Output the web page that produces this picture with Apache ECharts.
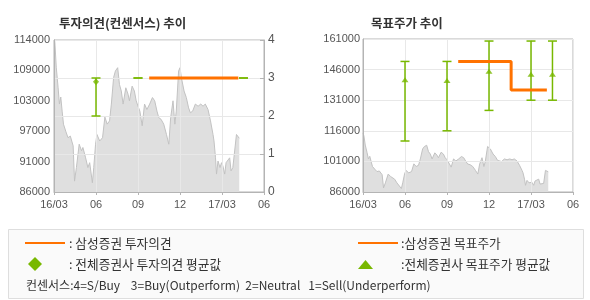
<!DOCTYPE html>
<html>
<head>
<meta charset="utf-8">
<script src="https://cdn.jsdelivr.net/npm/echarts@6/dist/echarts.min.js"></script>
<style>
html,body{margin:0;padding:0;background:#fff;}
#chart{width:590px;height:300px;}
</style>
</head>
<body>
<div id="chart"></div>
<script>
// ---- data ----
const xTickLabels = ['16/03', '06', '09', '12', '17/03', '06'];
const opinionTickLabels = ['0', '1', '2', '3', '4'];
const leftPriceTickLabels = ['86000', '91000', '97000', '103000', '109000', '114000'];
const rightPriceTickLabels = ['86000', '101000', '116000', '131000', '146000', '161000'];

const priceDates = [
  '2016-03-01','2016-03-03','2016-03-06','2016-03-10','2016-03-13','2016-03-16','2016-03-19','2016-03-22','2016-03-27',
  '2016-04-01','2016-04-06','2016-04-12','2016-04-15','2016-04-19','2016-04-25','2016-04-30',
  '2016-05-03','2016-05-09','2016-05-14','2016-05-18','2016-05-24','2016-05-27','2016-05-31',
  '2016-06-03','2016-06-09','2016-06-15','2016-06-20','2016-06-25','2016-06-30',
  '2016-07-04','2016-07-09','2016-07-13','2016-07-18','2016-07-22','2016-07-26','2016-07-30',
  '2016-08-05','2016-08-10','2016-08-13','2016-08-19','2016-08-24','2016-08-28',
  '2016-09-01','2016-09-05','2016-09-10','2016-09-15','2016-09-20','2016-09-26',
  '2016-10-02','2016-10-07','2016-10-12','2016-10-16','2016-10-21','2016-10-27',
  '2016-11-02','2016-11-07','2016-11-11','2016-11-16','2016-11-20','2016-11-23','2016-11-28',
  '2016-12-01','2016-12-04','2016-12-10','2016-12-15','2016-12-20','2016-12-24','2016-12-29',
  '2017-01-04','2017-01-10','2017-01-16','2017-01-21','2017-01-26',
  '2017-02-01','2017-02-06','2017-02-11','2017-02-13','2017-02-16','2017-02-18','2017-02-21','2017-02-25','2017-02-28',
  '2017-03-03','2017-03-07','2017-03-10','2017-03-14','2017-03-18','2017-03-21','2017-03-25','2017-03-29',
  '2017-04-02','2017-04-05','2017-04-08'
];
const priceValues = [
  114800,113500,109000,105300,102200,103500,100900,98500,97200,
  96000,96300,94500,88000,90500,94800,93600,
  94200,92300,90500,91400,87700,90500,94800,
  96600,95400,96000,99800,98500,99100,
  102200,107100,108300,108900,105800,104600,102200,
  105200,104000,102800,105500,104600,102800,
  101800,100900,98200,102200,101200,102200,
  103400,102800,100900,99700,99400,98500,
  96600,94800,99700,102800,98500,100900,108300,
  108900,107100,104600,103400,101500,100600,100900,
  102200,101800,102200,101800,102200,
  101200,99100,96600,95400,92300,89300,91700,90500,91400,
  90800,89300,91400,91700,92300,89900,90500,90200,
  96600,96300,95900
];

// Samsung Securities investment opinion (3 = Buy)
const opinionDates = ['2016-09-25', '2017-04-06'];
const opinionValues = [3, 3];

// All brokers' consensus opinion
const consensusDates = ['2016-06-01', '2016-09-01', '2016-12-01', '2017-03-01', '2017-04-17'];
const opinionMax = [3, 3, 3, 3, 3];
const opinionMin = [2, 3, 3, 3, 3];
const opinionMean = [2.9, null, null, null, null];

// Samsung Securities target price
const targetDates = ['2016-09-25', '2017-01-19', '2017-04-05'];
const targetValues = [150000, 136000, 136000];

// All brokers' target price consensus
const targetMax = [150000, 150000, 160000, 160000, 160000];
const targetMin = [111000, 116000, 126000, 131000, 131000];
const targetMean = [141000, 140700, 145200, 143700, 143700];

// ---- helpers ----
function monthIndex(s) {
  const p = s.split('-').map(Number);
  const dim = new Date(p[0], p[1], 0).getDate();
  return (p[0] - 2016) * 12 + (p[1] - 3) + (p[2] - 1) / dim;
}
const ORANGE = '#ff7200';
const GREEN = '#78b800';
const AXIS = '#b4b4b4';
const GRIDLINE = '#e8e8e8';
const LABEL = '#555';

const priceData = priceDates.map((d, i) => [monthIndex(d), priceValues[i]]);
const opinionData = opinionDates.map((d, i) => [monthIndex(d), opinionValues[i]]);
const opinionBars = consensusDates.map((d, i) => [monthIndex(d), opinionMin[i], opinionMax[i]]);
const opinionMeans = consensusDates.map((d, i) => opinionMean[i] == null ? null : [monthIndex(d), opinionMean[i]]).filter(Boolean);
const targetData = targetDates.map((d, i) => [monthIndex(d), targetValues[i]]);
const targetBars = consensusDates.map((d, i) => [monthIndex(d), targetMin[i], targetMax[i]]);
const targetMeans = consensusDates.map((d, i) => [monthIndex(d), targetMean[i]]);

function errorBar(params, api) {
  const x = api.value(0);
  const lo = api.coord([x, api.value(1)]);
  const hi = api.coord([x, api.value(2)]);
  const hw = 4.5;
  const st = { stroke: GREEN, lineWidth: 1.5 };
  return {
    type: 'group',
    children: [
      { type: 'line', shape: { x1: lo[0], y1: lo[1], x2: hi[0], y2: hi[1] }, style: st },
      { type: 'line', shape: { x1: hi[0] - hw, y1: hi[1], x2: hi[0] + hw, y2: hi[1] }, style: st },
      { type: 'line', shape: { x1: lo[0] - hw, y1: lo[1], x2: lo[0] + hw, y2: lo[1] }, style: st }
    ]
  };
}

function xAxis(gi) {
  return {
    type: 'value', gridIndex: gi, min: 0, max: 15, interval: 3, z: 3,
    axisLine: { lineStyle: { color: AXIS } },
    axisTick: { show: true, length: 3, lineStyle: { color: AXIS } },
    axisLabel: { color: LABEL, fontSize: 11, fontFamily: 'Liberation Sans', margin: 7,
      formatter: v => xTickLabels[Math.round(v / 3)] },
    splitLine: { show: true, lineStyle: { color: GRIDLINE } }
  };
}

const textFont = '12.7px "Noto Sans CJK KR"';
const option = {
  animation: false,
  title: [
    { text: '투자의견(컨센서스) 추이', left: 54, top: 12,
      textStyle: { fontSize: 12.5, fontWeight: 'bold', color: '#333', fontFamily: 'Noto Sans CJK KR' } },
    { text: '목표주가 추이', left: 366, top: 12,
      textStyle: { fontSize: 12.5, fontWeight: 'bold', color: '#333', fontFamily: 'Noto Sans CJK KR' } }
  ],
  grid: [
    { left: 54, top: 40, width: 210, height: 152, show: true, borderColor: AXIS, borderWidth: 1, backgroundColor: '#fff' },
    { left: 363, top: 39, width: 210, height: 153, show: true, borderColor: AXIS, borderWidth: 1, backgroundColor: '#fff' }
  ],
  xAxis: [xAxis(0), xAxis(1)],
  yAxis: [
    { // 0: left visible labels, chart 1
      type: 'value', gridIndex: 0, position: 'left', min: 0, max: 5, interval: 1, z: 3,
      axisLine: { show: true, lineStyle: { color: AXIS } }, axisTick: { show: false },
      splitLine: { show: false },
      axisLabel: { color: LABEL, fontSize: 11, fontFamily: 'Liberation Sans', margin: 4,
        formatter: v => leftPriceTickLabels[Math.round(v)] }
    },
    { // 1: right opinion axis, chart 1
      type: 'value', gridIndex: 0, position: 'right', min: 0, max: 4, interval: 1, z: 3,
      axisLine: { show: true, lineStyle: { color: AXIS } },
      axisTick: { show: true, inside: true, length: 4, lineStyle: { color: AXIS } },
      splitLine: { show: true, lineStyle: { color: GRIDLINE } },
      axisLabel: { color: LABEL, fontSize: 12, fontFamily: 'Liberation Sans', margin: 4,
        formatter: v => opinionTickLabels[Math.round(v)] }
    },
    { // 2: hidden price axis, chart 1
      type: 'value', gridIndex: 0, min: 86000, max: 114000, show: false
    },
    { // 3: left visible labels, chart 2
      type: 'value', gridIndex: 1, position: 'left', min: 0, max: 5, interval: 1, z: 3,
      axisLine: { show: true, lineStyle: { color: AXIS } }, axisTick: { show: false },
      splitLine: { show: true, lineStyle: { color: GRIDLINE } },
      axisLabel: { color: LABEL, fontSize: 11, fontFamily: 'Liberation Sans', margin: 3,
        formatter: v => rightPriceTickLabels[Math.round(v)] }
    },
    { // 4: hidden price axis, chart 2
      type: 'value', gridIndex: 1, min: 86000, max: 161000, show: false
    }
  ],
  series: [
    { type: 'line', xAxisIndex: 0, yAxisIndex: 2, data: priceData, symbol: 'none', z: 1,
      lineStyle: { color: '#c2c2c2', width: 1 }, areaStyle: { color: '#dfdfdf', opacity: 1, origin: 'start' } },
    { type: 'custom', xAxisIndex: 0, yAxisIndex: 1, data: opinionBars, renderItem: errorBar, z: 5,
      encode: { x: 0, y: [1, 2] } },
    { type: 'scatter', xAxisIndex: 0, yAxisIndex: 1, data: opinionMeans, symbol: 'diamond', symbolSize: [6, 7], z: 6,
      itemStyle: { color: GREEN } },
    { type: 'line', xAxisIndex: 0, yAxisIndex: 1, data: opinionData, symbol: 'none', z: 7,
      lineStyle: { color: ORANGE, width: 3 } },

    { type: 'line', xAxisIndex: 1, yAxisIndex: 4, data: priceData, symbol: 'none', z: 1,
      lineStyle: { color: '#c2c2c2', width: 1 }, areaStyle: { color: '#dfdfdf', opacity: 1, origin: 'start' } },
    { type: 'custom', xAxisIndex: 1, yAxisIndex: 4, data: targetBars, renderItem: errorBar, z: 5,
      encode: { x: 0, y: [1, 2] } },
    { type: 'scatter', xAxisIndex: 1, yAxisIndex: 4, data: targetMeans, symbol: 'triangle', symbolSize: [7, 5], z: 6,
      itemStyle: { color: GREEN } },
    { type: 'line', xAxisIndex: 1, yAxisIndex: 4, data: targetData, symbol: 'none', step: 'end', z: 7,
      lineStyle: { color: ORANGE, width: 3 } }
  ],
  graphic: [
    { type: 'rect', shape: { x: 8.5, y: 229.5, width: 575, height: 69 }, style: { fill: '#fafafa', stroke: '#dedede', lineWidth: 1 } },
    { type: 'line', shape: { x1: 25, y1: 243, x2: 65, y2: 243 }, style: { stroke: ORANGE, lineWidth: 2 } },
    { type: 'text', style: { x: 69, y: 243.5, text: ': 삼성증권 투자의견', font: textFont, fill: '#333', verticalAlign: 'middle' } },
    { type: 'polygon', shape: { points: [[35, 257], [42, 264], [35, 271], [28, 264]] }, style: { fill: GREEN } },
    { type: 'text', style: { x: 69, y: 264.5, text: ': 전체증권사 투자의견 평균값', font: textFont, fill: '#333', verticalAlign: 'middle' } },
    { type: 'text', style: { x: 26, y: 285, text: '컨센서스:4=S/Buy    3=Buy(Outperform)  2=Neutral   1=Sell(Underperform)',
      font: '12px "Noto Sans CJK KR"', fill: '#333', verticalAlign: 'middle' } },
    { type: 'line', shape: { x1: 358, y1: 243, x2: 398, y2: 243 }, style: { stroke: ORANGE, lineWidth: 2 } },
    { type: 'text', style: { x: 401, y: 243.5, text: ':삼성증권 목표주가', font: textFont, fill: '#333', verticalAlign: 'middle' } },
    { type: 'polygon', shape: { points: [[365.5, 260], [373, 269], [358, 269]] }, style: { fill: GREEN } },
    { type: 'text', style: { x: 401, y: 264.5, text: ':전체증권사 목표주가 평균값', font: textFont, fill: '#333', verticalAlign: 'middle' } }
  ]
};

const chart = echarts.init(document.getElementById('chart'), null, { renderer: 'canvas' });
chart.setOption(option);
</script>
</body>
</html>
